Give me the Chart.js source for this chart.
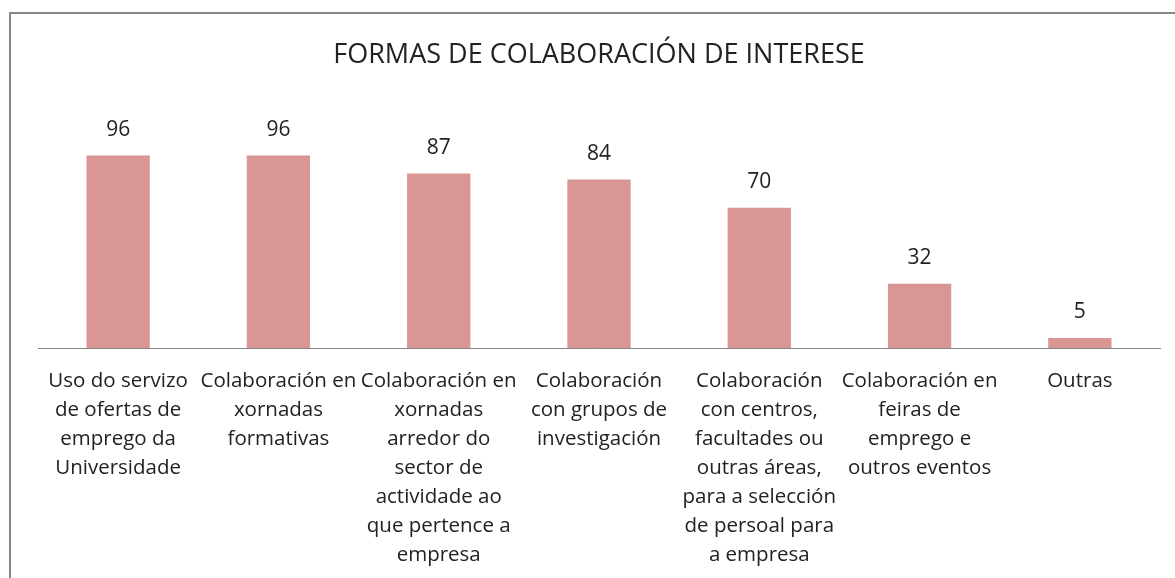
<!DOCTYPE html>
<html>
<head>
<meta charset="utf-8">
<script src="https://cdn.jsdelivr.net/npm/chart.js@4/dist/chart.umd.min.js"></script>
<style>
    html, body { margin: 0; padding: 0; background: #fff; overflow: hidden; }
    #frame {
        position: absolute; left: 9px; top: 12px; width: 1300px; height: 700px;
        border-left: 2px solid #878787; border-top: 2px solid #878787;
    }
    #wrap { position: absolute; left: 0; top: 0; width: 1175px; height: 578px; }
</style>
</head>
<body>
<div id="frame"></div>
<div id="wrap"><canvas id="chart"></canvas></div>
<script>
// Categories (wrapped as in the original)
const categories = [
    ['Uso do servizo', 'de ofertas de', 'emprego da', 'Universidade'],
    ['Colaboración en', 'xornadas', 'formativas'],
    ['Colaboración en', 'xornadas', 'arredor do', 'sector de', 'actividade ao', 'que pertence a', 'empresa'],
    ['Colaboración', 'con grupos de', 'investigación'],
    ['Colaboración', 'con centros,', 'facultades ou', 'outras áreas,', 'para a selección', 'de persoal para', 'a empresa'],
    ['Colaboración en', 'feiras de', 'emprego e', 'outros eventos'],
    ['Outras']
];
const values = [96, 96, 87, 84, 70, 32, 5];
const chartTitle = 'FORMAS DE COLABORACIÓN DE INTERESE';

const textColor = '#222222';
const fontFamily = '"Open Sans", Lato, sans-serif';

// value labels above each bar
const barLabels = {
    id: 'barLabels',
    afterDatasetsDraw(chart) {
        const ctx = chart.ctx;
        const meta = chart.getDatasetMeta(0);
        ctx.save();
        ctx.font = '21px ' + fontFamily;
        ctx.fillStyle = textColor;
        ctx.textAlign = 'center';
        ctx.textBaseline = 'alphabetic';
        meta.data.forEach((bar, i) => {
            ctx.fillText(values[i], bar.x, bar.y - 20);
        });
        ctx.restore();
    }
};

new Chart(document.getElementById('chart'), {
    type: 'bar',
    data: {
        labels: categories,
        datasets: [{
            data: values,
            backgroundColor: '#D99694',
            borderWidth: 0,
            categoryPercentage: 1,
            barPercentage: 0.395
        }]
    },
    options: {
        responsive: true,
        maintainAspectRatio: false,
        animation: false,
        layout: { padding: { left: 38, right: 15, top: 0, bottom: 0 } },
        plugins: {
            legend: { display: false },
            tooltip: { enabled: false },
            title: {
                display: true,
                text: chartTitle,
                color: textColor,
                font: { family: fontFamily, size: 27, weight: 'normal' },
                padding: { top: 39, bottom: 36 }
            }
        },
        scales: {
            x: {
                grid: { display: false },
                border: { display: true, color: '#868686', width: 1 },
                ticks: {
                    color: textColor,
                    font: { family: fontFamily, size: 20.5, lineHeight: 1.415 },
                    padding: 11,
                    maxRotation: 0,
                    autoSkip: false
                },
                afterFit(scale) { scale.height = 230; }
            },
            y: {
                display: false,
                min: 0,
                max: 120
            }
        }
    },
    plugins: [barLabels]
});
</script>
</body>
</html>
